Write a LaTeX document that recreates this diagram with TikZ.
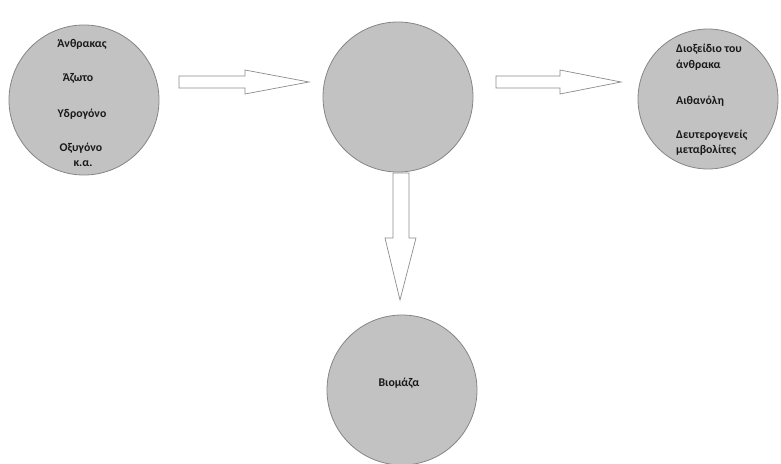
\documentclass[tikz,border=0pt]{standalone}
\usepackage{fontspec}
\setmainfont{Carlito}
\begin{document}
\begin{tikzpicture}[x=1pt,y=-1pt,
  blob/.style={circle,draw=black!48,fill=black!24,line width=0.8pt,minimum size=#1,inner sep=0pt},
  lbl/.style={font=\bfseries\fontsize{11.8}{14}\selectfont,text=black!90,inner sep=0pt},
  blockarrow/.style={draw=black!45,fill=white,line width=0.7pt,line join=miter}]
\useasboundingbox (0,0) rectangle (781,463);

% the four circles
\node[blob=150pt] (src) at (84,100) {};
\node[blob=150pt] (mid) at (398,97) {};
\node[blob=140pt] (out) at (708,99) {};
\node[blob=150pt] (bio) at (402,390) {};

% labels of the input circle
\node[lbl] (c) at (82,44) {Άνθρακας};
\node[lbl] (n) at (78,78) {Άζωτο};
\node[lbl] (h) at (82,114) {Υδρογόνο};
\node[lbl] (o) at (81,148) {Οξυγόνο};
\node[lbl] (ka) at (83,164) {κ.α.};

% labels of the output circle
\node[lbl,anchor=west] (co2a) at (676,49) {Διοξείδιο του};
\node[lbl,anchor=west] (co2b) at (676,65) {άνθρακα};
\node[lbl,anchor=west] (eth) at (676,101) {Αιθανόλη};
\node[lbl,anchor=west] (meta) at (676,135) {Δευτερογενείς};
\node[lbl,anchor=west] (metb) at (676,150) {μεταβολίτες};

% label of the biomass circle
\node[lbl] (biot) at (399,383) {Βιομάζα};

% block arrows between the circles
\draw[blockarrow] (179,76) -- (245,76) -- (245,70) -- (309,82) -- (245,94) -- (245,88) -- (179,88) -- cycle;
\draw[blockarrow] (496,76) -- (560,76) -- (560,70) -- (621,82) -- (560,94) -- (560,88) -- (496,88) -- cycle;
\draw[blockarrow] (393,173) -- (409,173) -- (409,238) -- (416,238) -- (400,300) -- (385,238) -- (393,238) -- cycle;
\end{tikzpicture}
\end{document}
